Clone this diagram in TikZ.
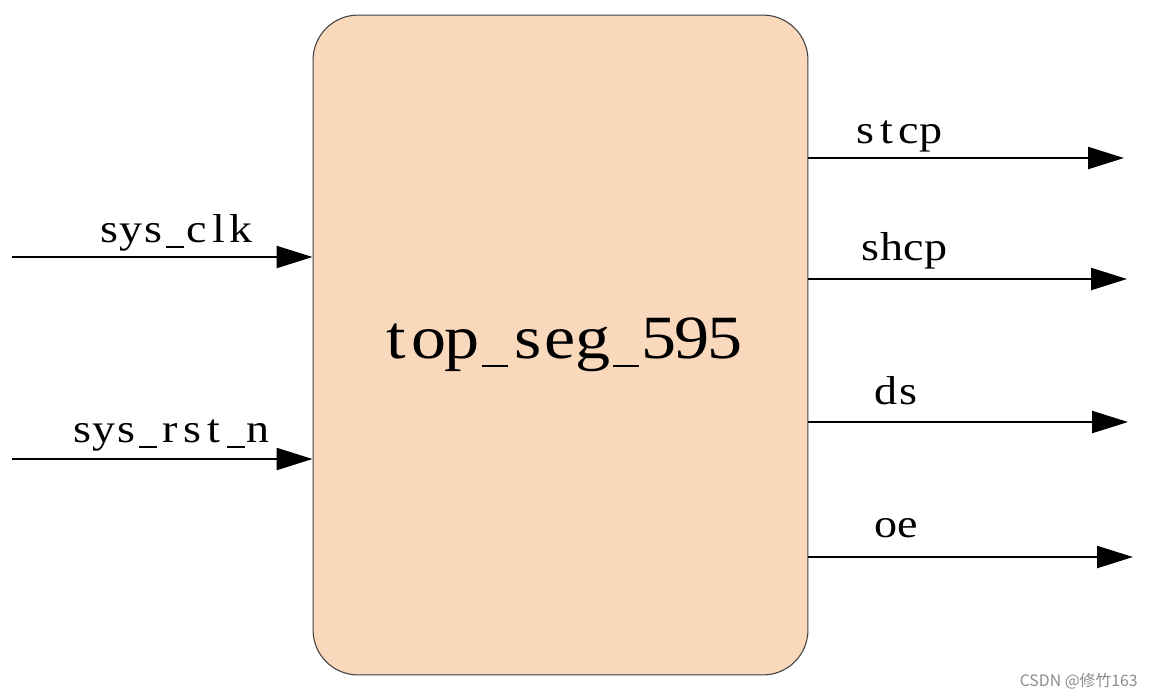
\documentclass[tikz,border=0pt]{standalone}
\usepackage{fontspec}
\usepackage{graphicx}
\setmainfont{Liberation Serif}
\newfontfamily\cjk{Noto Sans CJK SC}
\usetikzlibrary{arrows.meta}
\definecolor{peach}{RGB}{250,216,188}
\newlength\cellwd
\def\cells#1{\cellsaux#1\relax}
\def\cellsaux#1{\ifx#1\relax\else\cellone{#1}\expandafter\cellsaux\fi}
\def\cellone#1{\ifx#1\_\makebox[\cellwd]{\rule[-0.14em]{0.8\cellwd}{0.045em}}\else\makebox[\cellwd]{\scalebox{1.14}[1]{#1}}\fi}
\begin{document}
\begin{tikzpicture}[x=0.02cm, y=-0.02cm,
                blk/.style={draw=black!75, line width=0.6pt, fill=peach, rounded corners=0.9cm,
                            minimum width=9.9cm, minimum height=13.2cm, inner sep=0pt,
                            font=\fontsize{35}{40}\selectfont\setlength\cellwd{18.7pt}},
                sig/.style={-{Triangle[length=0.72cm, width=0.44cm]}, line width=1.3pt},
                lbl/.style={anchor=base, inner sep=0pt, font=\fontsize{23}{28}\selectfont\setlength\cellwd{12.5pt}}
            ]
            \useasboundingbox (0,0) rectangle (1152,698);
            \node[blk] (top) at (560.5,345) {\cells{top\_seg\_595}};
            \coordinate (clk) at (12,257);
            \coordinate (rst) at (12,459);
            \coordinate (stcp) at (1124,158);
            \coordinate (shcp) at (1127,279);
            \coordinate (ds)   at (1128,422);
            \coordinate (oe)   at (1133,557);
            \draw[sig] (clk) -- (clk -| top.west);
            \draw[sig] (rst) -- (rst -| top.west);
            \draw[sig] (stcp -| top.east) -- (stcp);
            \draw[sig] (shcp -| top.east) -- (shcp);
            \draw[sig] (ds -| top.east) -- (ds);
            \draw[sig] (oe -| top.east) -- (oe);
            \node[lbl] (clklbl)  at (175,242) {\cells{sys\_clk}};
            \node[lbl] (rstlbl)  at (170,442) {\cells{sys\_rst\_n}};
            \node[lbl] (stcplbl) at (898,143) {\cells{stcp}};
            \node[lbl] (shcplbl) at (903,260) {\cells{shcp}};
            \node[lbl] (dslbl)   at (897,404) {\cells{ds}};
            \node[lbl] (oelbl)   at (897,537) {\cells{oe}};
            \node[anchor=east, inner sep=0pt, text=black!45, font=\cjk\fontsize{9}{10}\selectfont]
                (mark) at (1138,681) {CSDN @修竹163};
\end{tikzpicture}
\end{document}
